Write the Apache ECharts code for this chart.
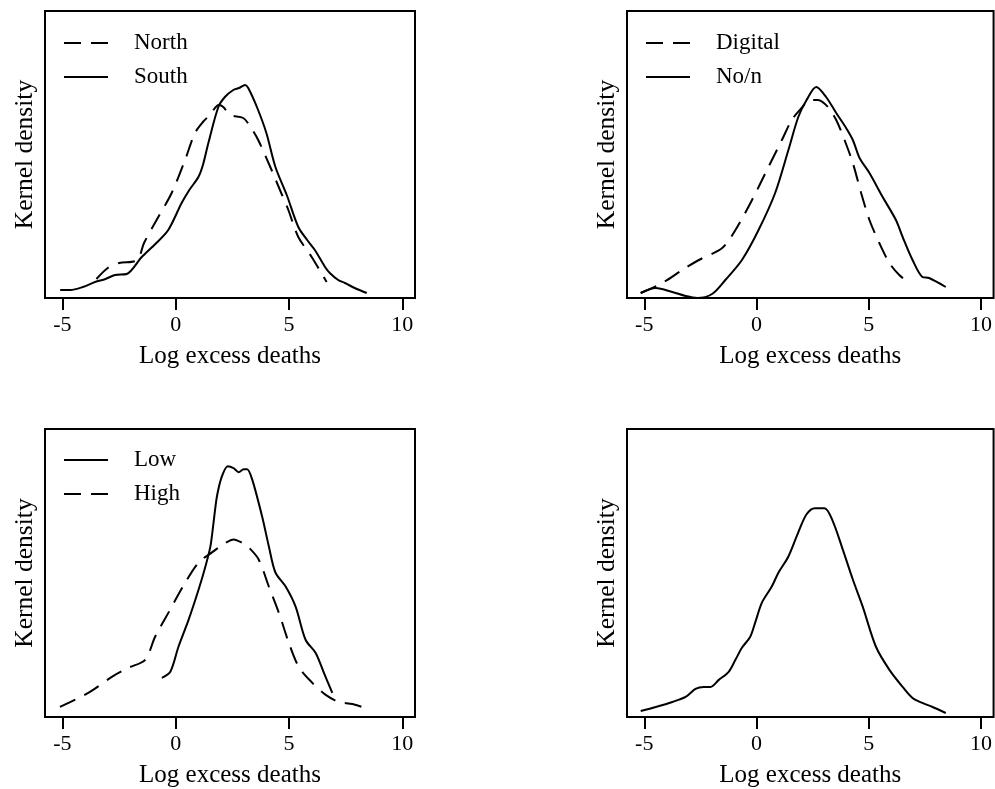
<!DOCTYPE html>
<html>
<head>
<meta charset="utf-8">
<script src="https://cdn.jsdelivr.net/npm/echarts@6/dist/echarts.min.js"></script>
<style>
html,body{margin:0;padding:0;background:#fff;}
#chart{width:995px;height:789px;}
</style>
</head>
<body>
<div id="chart"></div>
<script>
// ---- data: [log excess deaths, kernel density] ----
const north = [[-3.5,0.019],[-3.0,0.030],[-2.5,0.035],[-1.7,0.038],[-1.4,0.055],[-0.77,0.081],[-0.18,0.105],[0.41,0.138],[0.85,0.165],[1.2,0.176],[1.5,0.183],[1.9,0.193],[2.1,0.191],[2.4,0.183],[2.98,0.180],[3.3,0.171],[3.64,0.158],[4.23,0.128],[4.6,0.108],[4.97,0.088],[5.41,0.061],[6.0,0.041],[6.66,0.016]];
const south = [[-5.1,0.008],[-4.66,0.008],[-4.1,0.011],[-3.56,0.016],[-3.1,0.019],[-2.68,0.023],[-2.16,0.024],[-1.5,0.041],[-0.9,0.054],[-0.33,0.068],[0.26,0.095],[0.6,0.108],[1.0,0.121],[1.2,0.133],[1.44,0.155],[1.88,0.191],[2.17,0.201],[2.54,0.208],[2.8,0.210],[3.06,0.213],[3.2,0.210],[3.6,0.190],[4.0,0.165],[4.4,0.131],[4.9,0.103],[5.41,0.071],[5.8,0.058],[6.14,0.048],[6.59,0.031],[6.8,0.025],[7.17,0.018],[7.47,0.015],[7.9,0.010],[8.43,0.005]];
const digital = [[-5.16,0.005],[-4.2,0.015],[-3.31,0.028],[-2.57,0.038],[-1.53,0.050],[-0.94,0.068],[-0.2,0.098],[0.53,0.131],[1.13,0.158],[1.57,0.178],[2.01,0.190],[2.37,0.198],[2.74,0.198],[3.18,0.191],[3.55,0.178],[3.92,0.158],[4.29,0.135],[4.66,0.105],[5.03,0.078],[5.47,0.055],[5.92,0.035],[6.36,0.023],[6.8,0.015]];
const nonDigital = [[-5.16,0.005],[-4.49,0.010],[-3.75,0.006],[-3.16,0.002],[-2.64,0.0],[-1.98,0.004],[-1.39,0.018],[-0.65,0.038],[0.09,0.068],[0.83,0.105],[1.42,0.148],[1.86,0.181],[2.23,0.198],[2.66,0.211],[3.1,0.201],[3.55,0.185],[3.99,0.170],[4.29,0.158],[4.59,0.140],[5.03,0.125],[5.62,0.101],[6.21,0.078],[6.51,0.061],[6.95,0.038],[7.39,0.021],[7.69,0.020],[8.43,0.011]];
const low = [[-0.61,0.039],[-0.24,0.045],[0.12,0.070],[0.57,0.097],[1.01,0.127],[1.31,0.150],[1.53,0.170],[1.67,0.194],[1.82,0.220],[2.04,0.240],[2.3,0.250],[2.55,0.248],[2.78,0.244],[3.0,0.247],[3.15,0.247],[3.37,0.237],[3.81,0.200],[4.11,0.170],[4.4,0.144],[4.85,0.130],[5.29,0.110],[5.73,0.077],[6.17,0.064],[6.54,0.044],[6.91,0.024]];
const high = [[-5.11,0.010],[-3.86,0.024],[-2.82,0.040],[-2.09,0.049],[-1.35,0.057],[-0.91,0.080],[-0.32,0.104],[0.42,0.134],[1.01,0.154],[1.6,0.164],[2.1,0.172],[2.56,0.177],[2.9,0.174],[3.22,0.169],[3.66,0.157],[4.11,0.130],[4.55,0.104],[4.99,0.074],[5.43,0.050],[6.03,0.034],[6.62,0.022],[7.2,0.015],[7.8,0.013],[8.46,0.008]];
const allCountries = [[-5.16,0.006],[-4.49,0.010],[-3.75,0.015],[-3.16,0.020],[-2.72,0.028],[-2.35,0.030],[-2.05,0.030],[-1.68,0.037],[-1.24,0.045],[-0.94,0.057],[-0.65,0.069],[-0.28,0.080],[-0.06,0.094],[0.24,0.114],[0.68,0.130],[0.98,0.144],[1.42,0.160],[1.86,0.184],[2.23,0.202],[2.6,0.208],[3.03,0.208],[3.4,0.195],[3.84,0.167],[4.29,0.137],[4.73,0.110],[5.32,0.070],[5.92,0.047],[6.51,0.030],[6.95,0.019],[7.39,0.014],[7.84,0.010],[8.43,0.004]];
const xTicks = [-5, 0, 5, 10];
const xTitle = 'Log excess deaths';
const yTitle = 'Kernel density';

const FONT = '"Liberation Serif", "Times New Roman", serif';
const chart = echarts.init(document.getElementById('chart'), null, {renderer: 'canvas'});

const grids = [
  {left: 45, top: 11, width: 370, height: 287},
  {left: 627, top: 11, width: 370, height: 287},
  {left: 45, top: 429, width: 370, height: 288},
  {left: 627, top: 429, width: 370, height: 288}
];

function xAx(i){
  return {
    type: 'value', gridIndex: i, min: -5.77, max: 10.56,
    axisLine: {show: false},
    axisTick: {show: true, length: 12, customValues: xTicks, lineStyle: {color: '#000', width: 2}},
    axisLabel: {show: true, customValues: xTicks, margin: 16, color: '#000', fontFamily: FONT, fontSize: 22},
    splitLine: {show: false},
    name: xTitle, nameLocation: 'middle', nameGap: 46,
    nameTextStyle: {color: '#000', fontFamily: FONT, fontSize: 25}
  };
}
function yAx(i){
  return {
    type: 'value', gridIndex: i, min: 0, max: 0.287,
    axisLine: {show: false}, axisTick: {show: false}, axisLabel: {show: false}, splitLine: {show: false},
    name: yTitle, nameLocation: 'middle', nameGap: 7, nameRotate: 90,
    nameTextStyle: {color: '#000', fontFamily: FONT, fontSize: 25.5}
  };
}
const DASH = [17, 10];
function ser(name, data, i, dashed){
  return {
    type: 'line', name: name, data: data, xAxisIndex: i, yAxisIndex: i,
    symbol: 'none', showSymbol: false, smooth: 0.3, silent: true,
    lineStyle: {color: '#000', width: 2, type: dashed ? DASH : 'solid'},
    itemStyle: {color: '#000'}
  };
}
function leg(left, top, names){
  return {
    left: left, top: top, orient: 'vertical', padding: 0, itemGap: 8,
    itemWidth: 44, itemHeight: 26, data: names, selectedMode: false,
    itemStyle: {color: 'rgba(0,0,0,0)', borderWidth: 0, opacity: 0},
    lineStyle: {width: 2, color: '#000', type: 'inherit'},
    textStyle: {color: '#000', fontFamily: FONT, fontSize: 23, lineHeight: 26, padding: [0, 0, 0, 21]}
  };
}

chart.setOption({
  backgroundColor: '#fff',
  animation: false,
  grid: grids.map(g => Object.assign({show: true, borderColor: '#000', borderWidth: 2, backgroundColor: 'transparent'}, g)),
  xAxis: [0,1,2,3].map(xAx),
  yAxis: [0,1,2,3].map(yAx),
  legend: [
    leg(63, 30, ['North', 'South']),
    leg(645, 30, ['Digital', 'No/n']),
    leg(63, 447, ['Low', 'High'])
  ],
  series: [
    ser('North', north, 0, true),
    ser('South', south, 0, false),
    ser('Digital', digital, 1, true),
    ser('No/n', nonDigital, 1, false),
    ser('Low', low, 2, false),
    ser('High', high, 2, true),
    ser('All', allCountries, 3, false)
  ]
});
</script>
</body>
</html>
